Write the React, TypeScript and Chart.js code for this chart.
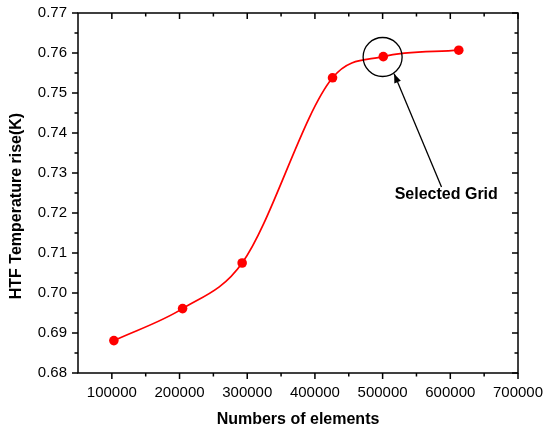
import React, { useEffect, useRef } from "react";
import { Chart, registerables } from "chart.js";

Chart.register(...registerables);

const elements = [103000, 204500, 292500, 426000, 501000, 612500];
const tempRise = [0.6881, 0.6961, 0.7075, 0.7538, 0.7591, 0.7607];
const xMajorTicks = [100000, 200000, 300000, 400000, 500000, 600000, 700000];
const xMinorTicks = [150000, 250000, 350000, 450000, 550000, 650000];
const yMajorTicks = [0.68, 0.69, 0.70, 0.71, 0.72, 0.73, 0.74, 0.75, 0.76, 0.77];
const yMinorTicks = [0.685, 0.695, 0.705, 0.715, 0.725, 0.735, 0.745, 0.755, 0.765];
const xTitle = "Numbers of elements";
const yTitle = "HTF Temperature rise(K)";
const noteText = "Selected Grid";
const noteTextAt = [594000, 0.7245];
const circleAt = [500000, 0.759];
const arrowFrom = [587000, 0.7265];
const arrowTo = [517000, 0.7548];

const framePlugin = {
  id: "frame",
  afterDraw(chart: any) {
    const ctx = chart.ctx;
    const { left, right, top, bottom } = chart.chartArea;
    const xs = chart.scales.x;
    const ys = chart.scales.y;
    ctx.save();
    ctx.strokeStyle = "#000";
    ctx.lineWidth = 1.5;
    ctx.strokeRect(left, top, right - left, bottom - top);
    const major = 6;
    const minor = 3.5;
    ctx.beginPath();
    const xt = (v: number, len: number) => {
      const px = xs.getPixelForValue(v);
      ctx.moveTo(px, bottom);
      ctx.lineTo(px, bottom + len);
      ctx.moveTo(px, top);
      ctx.lineTo(px, top + len);
    };
    const yt = (v: number, len: number) => {
      const py = ys.getPixelForValue(v);
      ctx.moveTo(left, py);
      ctx.lineTo(left - len, py);
      ctx.moveTo(right, py);
      ctx.lineTo(right - len, py);
    };
    xMajorTicks.forEach((v) => xt(v, major));
    xMinorTicks.forEach((v) => xt(v, minor));
    yMajorTicks.forEach((v) => yt(v, major));
    yMinorTicks.forEach((v) => yt(v, minor));
    ctx.stroke();

    // titles
    ctx.fillStyle = "#000";
    ctx.font = "bold 16px Arial, 'Liberation Sans', sans-serif";
    ctx.textAlign = "center";
    ctx.textBaseline = "middle";
    ctx.fillText(xTitle, (left + right) / 2, 420);
    ctx.save();
    ctx.translate(17, 206);
    ctx.rotate(-Math.PI / 2);
    ctx.fillText(yTitle, 0, 0);
    ctx.restore();

    // annotation
    const cx = xs.getPixelForValue(circleAt[0]);
    const cy = ys.getPixelForValue(circleAt[1]);
    ctx.lineWidth = 1.3;
    ctx.beginPath();
    ctx.arc(cx, cy, 19.5, 0, Math.PI * 2);
    ctx.stroke();

    const ax = xs.getPixelForValue(arrowFrom[0]);
    const ay = ys.getPixelForValue(arrowFrom[1]);
    const bx = xs.getPixelForValue(arrowTo[0]);
    const by = ys.getPixelForValue(arrowTo[1]);
    ctx.beginPath();
    ctx.moveTo(ax, ay);
    ctx.lineTo(bx, by);
    ctx.stroke();
    const ang = Math.atan2(by - ay, bx - ax);
    const hl = 9;
    const hw = 3.5;
    ctx.beginPath();
    ctx.moveTo(bx, by);
    ctx.lineTo(
      bx - hl * Math.cos(ang) + hw * Math.sin(ang),
      by - hl * Math.sin(ang) - hw * Math.cos(ang)
    );
    ctx.lineTo(
      bx - hl * Math.cos(ang) - hw * Math.sin(ang),
      by - hl * Math.sin(ang) + hw * Math.cos(ang)
    );
    ctx.closePath();
    ctx.fill();

    ctx.fillText(
      noteText,
      xs.getPixelForValue(noteTextAt[0]),
      ys.getPixelForValue(noteTextAt[1])
    );
    ctx.restore();
  },
};

export default function App() {
  const ref = useRef<HTMLCanvasElement | null>(null);
  useEffect(() => {
    document.body.style.margin = "0";
    const canvas = ref.current;
    if (!canvas) return;
    const chart = new Chart(canvas, {
      type: "line",
      data: {
        datasets: [
          {
            data: elements.map((x, i) => ({ x, y: tempRise[i] })),
            borderColor: "#ff0000",
            backgroundColor: "#ff0000",
            borderWidth: 1.7,
            pointRadius: 4.8,
            pointBorderWidth: 0,
            cubicInterpolationMode: "monotone",
            fill: false,
          },
        ],
      },
      options: {
        animation: false,
        responsive: false,
        devicePixelRatio: 1,
        layout: { padding: { left: 0, top: 13, right: 26, bottom: 0 } },
        plugins: { legend: { display: false }, tooltip: { enabled: false } },
        scales: {
          x: {
            type: "linear",
            min: 50000,
            max: 700000,
            grid: { display: false, drawTicks: false },
            border: { display: false },
            afterBuildTicks: (s: any) => {
              s.ticks = xMajorTicks.map((v) => ({ value: v }));
            },
            afterFit: (s: any) => {
              s.height = 59;
              s.paddingLeft = 0;
              s.paddingRight = 0;
              s.paddingTop = 0;
              s.paddingBottom = 0;
            },
            ticks: {
              padding: 11,
              color: "#000",
              maxRotation: 0,
              autoSkip: false,
              font: { family: "Arial, 'Liberation Sans', sans-serif", size: 15 },
              callback: (v: any) => String(v),
            },
          },
          y: {
            type: "linear",
            min: 0.68,
            max: 0.77,
            grid: { display: false, drawTicks: false },
            border: { display: false },
            afterBuildTicks: (s: any) => {
              s.ticks = yMajorTicks.map((v) => ({ value: v }));
            },
            afterFit: (s: any) => {
              s.width = 78;
              s.paddingLeft = 0;
              s.paddingRight = 0;
              s.paddingTop = 0;
              s.paddingBottom = 0;
            },
            ticks: {
              padding: 11,
              color: "#000",
              autoSkip: false,
              font: { family: "Arial, 'Liberation Sans', sans-serif", size: 15 },
              callback: (v: any) => Number(v).toFixed(2),
            },
          },
        },
      },
      plugins: [framePlugin],
    });
    return () => chart.destroy();
  }, []);
  return (
    <div style={{ position: "absolute", left: 0, top: 0, width: 544, height: 432, background: "#fff" }}>
      <canvas ref={ref} width={544} height={432} style={{ width: 544, height: 432 }} />
    </div>
  );
}
